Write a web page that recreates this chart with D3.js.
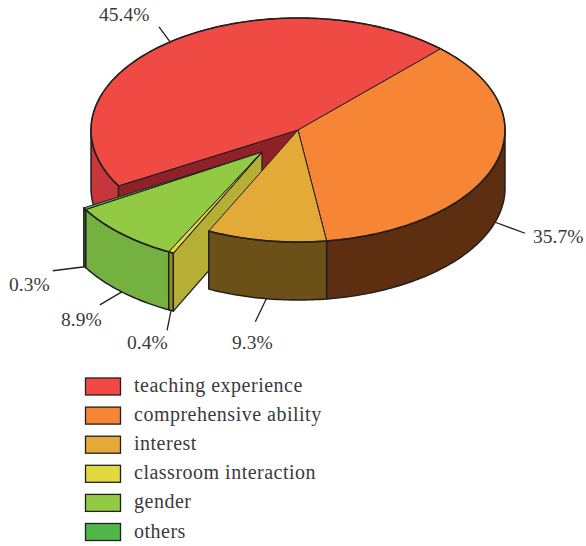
<!DOCTYPE html>
<html><head><meta charset="utf-8">
<script src="https://cdn.jsdelivr.net/npm/d3@7"></script>
<style>html,body{margin:0;padding:0;background:#fff}svg{display:block}text{font-family:"Liberation Serif",serif;fill:#3a3a3a}</style>
</head><body><svg id="c" width="586" height="546"></svg>
<script>
const categories = ["teaching experience","comprehensive ability","interest","classroom interaction","gender","others"];
const values = [45.4,35.7,9.3,0.4,8.9,0.3];
const valueLabels = ["45.4%","35.7%","9.3%","0.4%","8.9%","0.3%"];
const topColors = ["#f04a45","#f68535","#e3aa38","#e1da3e","#92cb43","#4fb848"];
const wallColors = ["#c6363a","#5d2e10","#6b5118","#8f8f25","#75b140","#2f7a35"];
const exploded = [false,false,false,true,true,true];
const cutColorRed = "#8f2129", cutColorYellow = "#b5b035";

const ink = "#231f20", depth = 58, explode = {x:-36, y:22}, wedgeScaleX = 0.993;
const sx = d3.scaleLinear().domain([-1,1]).range([91,505]);
const sy = d3.scaleLinear().domain([-1,1]).range([18,242]);
const svg = d3.select("#c");
const rad = Math.PI/180;
const arcs = d3.pie().sort(null).value(d=>d).startAngle(-119.9*rad).endAngle(240.1*rad)(values);

const off = i => exploded[i] ? explode : {x:0,y:0};
const pt = (i,a,dz=0) => [sx(Math.sin(a)*(exploded[i]?wedgeScaleX:1))+off(i).x, sy(-Math.cos(a))+off(i).y+dz];
const centre = (i,dz=0) => [sx(0)+off(i).x, sy(0)+off(i).y+dz];
const samples = (a0,a1) => { const n=Math.max(2,Math.ceil(Math.abs(a1-a0)/(1*rad))); return d3.range(n+1).map(k=>a0+(a1-a0)*k/n); };
const line = d3.line();
function poly(pts,fill,sw=1.2){ svg.append("path").attr("d",line(pts)+"Z").attr("fill",fill).attr("stroke",ink).attr("stroke-width",sw).attr("stroke-linejoin","round"); }
function topFace(i){ const s=arcs[i]; poly([centre(i),...samples(s.startAngle,s.endAngle).map(a=>pt(i,a))],topColors[i],1); 
  svg.append("path").attr("d",line(samples(s.startAngle,s.endAngle).map(a=>pt(i,a)))).attr("fill","none").attr("stroke",ink).attr("stroke-width",1.6); }
function outerWall(i){ const s=arcs[i];
  // only the part of the rim facing the viewer: clockwise angle between 90deg and 270deg
  let ranges=[[Math.max(s.startAngle,-270*rad),Math.min(s.endAngle,-90*rad)],[Math.max(s.startAngle,90*rad),Math.min(s.endAngle,270*rad)]].filter(r=>r[1]>r[0]);
  ranges.forEach(([a,b])=>{ const ss=samples(a,b); poly([...ss.map(t=>pt(i,t)),...ss.slice().reverse().map(t=>pt(i,t,depth))],wallColors[i],1.5); });
}
function cutWall(i,a,fill){ poly([centre(i),pt(i,a),pt(i,a,depth),centre(i,depth)],fill,1.3); }

// back: teaching experience with the wall the removed wedge exposes
outerWall(0); cutWall(0,arcs[0].startAngle,cutColorRed); topFace(0);
// exploded wedge
outerWall(5); topFace(5);
outerWall(4); topFace(4);
outerWall(3); cutWall(3,arcs[3].startAngle,cutColorYellow); topFace(3);
// front of the main body
outerWall(1); outerWall(2); topFace(1); topFace(2);

// leader lines and value labels
const leaderRim = [0,1,1,1,1,1];
const leaderDx = [-11,30,-11,-4,-22,-32], leaderDy = [-15,11,23,20,13,4];
const labelX = [99,533,232,127,61,9], labelY = [21,243,349,349,326,291];
arcs.forEach((s,i)=>{
  const p = pt(i,(s.startAngle+s.endAngle)/2,depth*leaderRim[i]);
  svg.append("line").attr("x1",p[0]).attr("y1",p[1]).attr("x2",p[0]+leaderDx[i]).attr("y2",p[1]+leaderDy[i]).attr("stroke",ink).attr("stroke-width",1.3);
  svg.append("text").attr("x",labelX[i]).attr("y",labelY[i]).attr("font-size",19.5).text(valueLabels[i]);
});

// legend
const ly = d3.scalePoint().domain(categories).range([378,523.5]);
categories.forEach((c,i)=>{
  svg.append("rect").attr("x",85.5).attr("y",ly(c)).attr("width",35).attr("height",17).attr("fill",topColors[i]).attr("stroke",ink).attr("stroke-width",1.3);
  svg.append("text").attr("x",134).attr("y",ly(c)+14).attr("font-size",20).attr("letter-spacing",0.5).text(c);
});
</script></body></html>
